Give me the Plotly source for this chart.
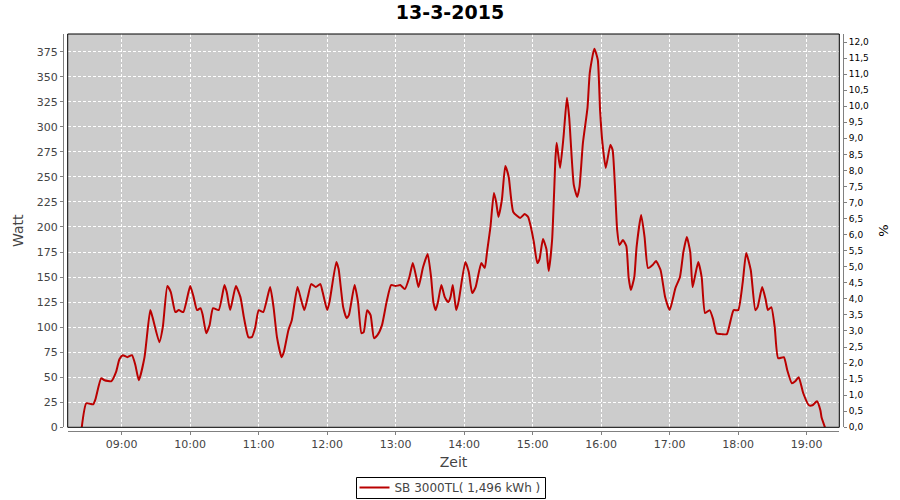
import plotly.graph_objects as go

DAY = "2015-03-13"
times = ["08:25","08:29","08:35","08:37","08:42","08:45","08:51","08:55","08:58","09:01",
         "09:05","09:09","09:12","09:15","09:20","09:25","09:27","09:33","09:36","09:40",
         "09:43","09:47","09:50","09:54","10:00","10:03","10:06","10:09","10:11","10:14",
         "10:17","10:20","10:25","10:30","10:32","10:35","10:40","10:44","10:47","10:51",
         "10:54","10:57","11:00","11:04","11:10","11:13","11:16","11:20","11:22","11:26",
         "11:29","11:34","11:37","11:40","11:43","11:46","11:50","11:54","11:56","12:00",
         "12:02","12:08","12:10","12:14","12:17","12:19","12:24","12:27","12:30","12:32",
         "12:35","12:38","12:41","12:44","12:48","12:52","12:56","13:00","13:04","13:08",
         "13:12","13:15","13:18","13:20","13:24","13:28","13:31","13:33","13:35","13:37",
         "13:40","13:43","13:46","13:48","13:50","13:53","13:55","14:01","14:04","14:07",
         "14:10","14:15","14:18","14:20","14:23","14:26","14:28","14:30","14:33","14:36",
         "14:39","14:43","14:49","14:53","14:56","14:58","15:01","15:04","15:06","15:09",
         "15:12","15:14","15:17","15:20","15:21","15:24","15:27","15:30","15:32","15:36",
         "15:39","15:41","15:44","15:48","15:50","15:54","15:57","15:59","16:01","16:04",
         "16:08","16:10","16:12","16:14","16:16","16:19","16:22","16:24","16:26","16:29",
         "16:31","16:35","16:38","16:41","16:45","16:48","16:52","16:56","17:00","17:05",
         "17:09","17:12","17:15","17:18","17:20","17:22","17:25","17:28","17:31","17:35",
         "17:38","17:41","17:46","17:50","17:53","17:56","18:00","18:04","18:07","18:11",
         "18:15","18:17","18:21","18:24","18:26","18:29","18:32","18:35","18:40","18:43",
         "18:47","18:50","18:53","18:57","19:02","19:05","19:09","19:12","19:13","19:16"]

watt = [0,24,23,28,49,47,46,55,68,72,
        70,72,62,47,70,117,110,85,100,141,
        135,115,117,115,141,130,117,119,112,94,
        102,119,117,142,135,117,141,130,110,90,
        90,100,117,115,140,120,90,70,75,97,
        107,140,128,117,130,143,140,143,135,117,
        125,165,158,120,109,112,142,125,94,95,
        117,112,89,92,102,125,142,141,142,138,
        150,164,150,140,160,173,150,125,117,125,
        142,130,125,130,142,117,125,165,155,134,
        140,164,159,175,200,234,225,210,227,261,
        250,215,209,213,210,202,185,164,168,188,
        178,156,187,270,284,259,290,329,309,242,
        230,240,284,319,354,378,367,317,285,259,
        282,277,242,197,182,187,181,150,137,150,
        180,212,190,159,162,166,157,130,117,139,
        150,175,190,175,140,150,165,150,114,117,
        108,94,93,93,105,117,117,145,174,157,
        117,120,140,128,117,120,100,69,70,57,
        44,46,50,34,22,22,26,17,10,0]

series_name = "SB 3000TL( 1,496 kWh )"
chart_title = "13-3-2015"
watt_ticks = list(range(0, 376, 25))

x_vals = [f"{DAY} {t}" for t in times]

FONT = "DejaVu Sans"
TXT = "#444444"
AXC = "#808080"

fig = go.Figure()
fig.add_trace(go.Scatter(x=x_vals, y=watt, mode="lines", name=series_name,
                         line=dict(color="#BA0000", width=2, shape="spline", smoothing=0.5)))
fig.add_trace(go.Scatter(x=[], y=[], yaxis="y2", showlegend=False, hoverinfo="skip"))

W, H = 900, 500
ml, mr, mt, mb = 63, 57, 34, 69
pw = W - ml - mr
ph = H - mt - mb
xd0 = (67.7 - ml) / pw
xd1 = (839.3 - ml) / pw
yd0 = (H - mb - 427.3) / ph


def px_x(p):
    return (p - ml) / pw


def px_y(p):
    return (H - mb - p) / ph


fig.update_layout(
    width=W, height=H,
    margin=dict(l=ml, r=mr, t=mt, b=mb, autoexpand=False),
    paper_bgcolor="white", plot_bgcolor="#CCCCCC",
    separators=",.",
    font=dict(family=FONT, color=TXT, size=11),
    title=dict(text="<b>" + chart_title + "</b>", x=0.5, xref="container", xanchor="center",
               y=1 - 12.5 / H, yref="container", yanchor="middle",
               font=dict(family=FONT, size=19, color="black")),
    showlegend=True,
    legend=dict(orientation="h", x=0.5, xref="container", xanchor="center",
                y=1 - 487.5 / H, yref="container", yanchor="middle",
                bgcolor="rgba(0,0,0,0)", borderwidth=0,
                font=dict(family=FONT, size=12, color=TXT),
                itemwidth=30, tracegroupgap=0),
    xaxis=dict(type="date", domain=[xd0, xd1], anchor="free", position=0,
               range=[f"{DAY} 08:12:42", f"{DAY} 19:28:34"],
               tick0=f"{DAY} 09:00", dtick=3600000, tickformat="%H:%M",
               showgrid=True, gridcolor="white", griddash="3px,2px", gridwidth=1,
               zeroline=False, showline=True, linecolor=AXC, linewidth=1,
               ticks="outside", ticklen=3, tickcolor=AXC,
               tickfont=dict(family=FONT, size=11, color=TXT),
               title=dict(text="Zeit", standoff=6, font=dict(family=FONT, size=14, color=TXT)),
               automargin=False),
    yaxis=dict(domain=[yd0, 1], anchor="free", position=0,
               range=[0, 392.7], tickvals=watt_ticks,
               showgrid=True, gridcolor="white", griddash="3px,2px", gridwidth=1,
               zeroline=False, showline=True, linecolor=AXC, linewidth=1,
               ticks="outside", ticklen=3, tickcolor=AXC,
               tickfont=dict(family=FONT, size=11, color=TXT),
               title=dict(text="Watt", standoff=8, font=dict(family=FONT, size=14, color=TXT)),
               automargin=False),
    yaxis2=dict(overlaying="y", side="right", anchor="free", position=1,
                range=[0, 12.25], dtick=0.5, tick0=0, tickformat=".1f",
                showgrid=False, zeroline=False, showline=True, linecolor=AXC, linewidth=1,
                ticks="outside", ticklen=3, tickcolor=AXC,
                tickfont=dict(family=FONT, size=9, color="black"),
                title=dict(text="%", standoff=10, font=dict(family=FONT, size=13, color="black")),
                automargin=False),
    shapes=[
        dict(type="rect", xref="x domain", yref="y domain", x0=0, x1=1, y0=0, y1=1,
             line=dict(color="black", width=1), fillcolor="rgba(0,0,0,0)", layer="above"),
        dict(type="rect", xref="paper", yref="paper",
             x0=px_x(356.5), x1=px_x(545.5), y0=px_y(498.5), y1=px_y(477.5),
             line=dict(color="black", width=1), fillcolor="white", layer="above"),
    ],
)

fig.write_html("out.html", config={"displayModeBar": False},
               post_script="document.body.style.margin='0';document.body.style.padding='0';")
